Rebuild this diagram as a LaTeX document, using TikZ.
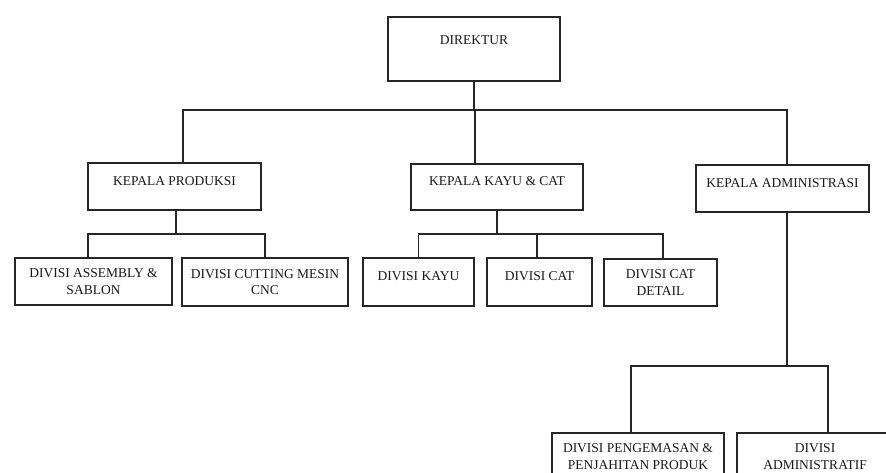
\documentclass[tikz,border=0pt]{standalone}
\usepackage{fontspec}
\setmainfont{Liberation Serif}

\begin{document}
\begin{tikzpicture}[x=1pt,y=-1pt,
  box/.style={draw=black!85,line width=1.3pt,inner sep=0pt,align=center,text=black!90,font=\fontsize{13.5}{16.5}\selectfont},
  lift/.style={text height=10pt,text depth=#1},
  link/.style={draw=black!85,line width=1.3pt}]
\clip (0,0) rectangle (886,472);
\fill[white] (0,0) rectangle (886,472);
% direktur and kepala
\node[box,lift=19pt,minimum width=172pt,minimum height=64pt] (dir) at (474,49) {DIREKTUR};
\node[box,lift=13pt,minimum width=173pt,minimum height=47pt] (kprod) at (174.5,186.5) {KEPALA PRODUKSI};
\node[box,lift=13pt,minimum width=172pt,minimum height=46pt] (kkayu) at (497,187) {KEPALA KAYU \& CAT};
\node[box,lift=13pt,minimum width=173pt,minimum height=47pt] (kadm) at (782.5,188.5) {KEPALA ADMINISTRASI};
% divisi
\node[box,minimum width=157pt,minimum height=47pt] (dasm) at (93.5,281.5) {DIVISI ASSEMBLY \&\\SABLON};
\node[box,minimum width=166pt,minimum height=48pt] (dcnc) at (265,282) {DIVISI CUTTING MESIN\\CNC};
\node[box,lift=14pt,minimum width=111pt,minimum height=48pt] (dkayu) at (418.5,282) {DIVISI KAYU};
\node[box,lift=14pt,minimum width=105pt,minimum height=48pt] (dcat) at (539.5,282) {DIVISI CAT};
\node[box,minimum width=113pt,minimum height=47pt] (dcatd) at (660.5,282.5) {DIVISI CAT\\DETAIL};
\node[box,minimum width=172pt,minimum height=47pt] (dpeng) at (638,456.5) {DIVISI PENGEMASAN \&\\PENJAHITAN PRODUK};
\node[box,minimum width=156pt,minimum height=47pt] (dadmf) at (815,456.5) {DIVISI\\ADMINISTRATIF};
% garis
\coordinate (top) at (474,110);
\coordinate (pbus) at (176,234);
\coordinate (kbus) at (497,234);
\coordinate (abus) at (787,366);
\draw[link] (dir) -- (top);
\draw[link] ([xshift=8.5pt]kprod.north) |- (top) -| ([xshift=4.5pt]kadm.north);
\draw[link] ([xshift=-22pt]kkayu.north) -- ([xshift=-22pt]kkayu.north |- top);
\draw[link] ([xshift=1.5pt]kprod.south) -- (pbus);
\draw[link] ([xshift=-5.5pt]dasm.north) |- (pbus) -| (dcnc.north);
\draw[link] (kkayu.south) -- (kbus);
\draw[link] (dkayu.north) |- (kbus) -| ([xshift=2.5pt]dcatd.north);
\draw[link] ([xshift=-2.5pt]dcat.north) -- ([xshift=-2.5pt]dcat.north |- kbus);
\draw[link] ([xshift=4.5pt]kadm.south) -- (abus);
\draw[link] ([xshift=-7pt]dpeng.north) |- (abus) -| ([xshift=13pt]dadmf.north);
\end{tikzpicture}
\end{document}
